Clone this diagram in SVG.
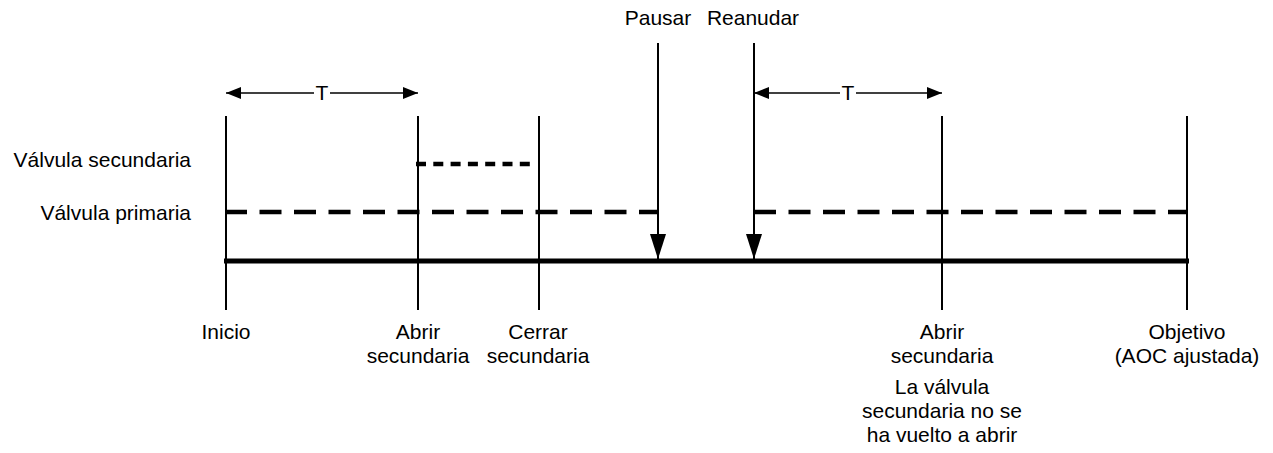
<svg xmlns="http://www.w3.org/2000/svg" width="1273" height="453" viewBox="0 0 1273 453">
  <style>
    text { font-family: "Liberation Sans", Arial, sans-serif; font-size: 21px; fill: #000; }
    .mid { text-anchor: middle; }
    .end { text-anchor: end; }
    .tick { stroke: #000; stroke-width: 2; fill: none; }
    .axis { stroke: #000; stroke-width: 5; fill: none; }
    .primary { stroke: #000; stroke-width: 4.5; stroke-dasharray: 22 12.5; fill: none; }
    .secondary { stroke: #000; stroke-width: 4.5; stroke-dasharray: 10 7.3; stroke-linecap: butt; fill: none; }
    .span { stroke: #000; stroke-width: 1.3; fill: none; }
    .event { stroke: #000; stroke-width: 2; fill: none; }
  </style>
  <defs>
    <marker id="spanHead" viewBox="0 0 15 12" refX="15" refY="6" markerWidth="15" markerHeight="12" markerUnits="userSpaceOnUse" orient="auto-start-reverse">
      <path d="M0,0 L15,6 L0,12 Z" fill="#000"/>
    </marker>
    <marker id="eventHead" viewBox="0 0 25 16" refX="25" refY="8" markerWidth="25" markerHeight="16" markerUnits="userSpaceOnUse" orient="auto">
      <path d="M0,0 L25,8 L0,16 Z" fill="#000"/>
    </marker>
  </defs>

  <rect width="1273" height="453" fill="#fff"/>

  <!-- Valve rows -->
  <g id="row-labels">
    <text class="end" x="191" y="167">Válvula secundaria</text>
    <text class="end" x="191" y="220">Válvula primaria</text>
  </g>

  <g id="connectors">
    <!-- timeline -->
    <line class="axis" x1="224" y1="261" x2="1189" y2="261"/>
    <!-- primary valve open periods -->
    <line class="primary" x1="225" y1="212" x2="658" y2="212"/>
    <line class="primary" x1="754" y1="212" x2="1187" y2="212"/>
    <!-- secondary valve open period -->
    <line class="secondary" x1="416" y1="164" x2="531" y2="164"/>
    <!-- T intervals -->
    <line class="span" x1="226" y1="93" x2="418" y2="93" marker-start="url(#spanHead)" marker-end="url(#spanHead)"/>
    <line class="span" x1="754" y1="93" x2="942" y2="93" marker-start="url(#spanHead)" marker-end="url(#spanHead)"/>
    <!-- pause / resume events -->
    <line class="event" x1="658" y1="43" x2="658" y2="259" marker-end="url(#eventHead)"/>
    <line class="event" x1="754" y1="43" x2="754" y2="259" marker-end="url(#eventHead)"/>
  </g>

  <g id="t-labels">
    <rect x="314" y="83" width="16" height="20" fill="#fff"/>
    <text class="mid" x="322" y="100">T</text>
    <rect x="840" y="83" width="16" height="20" fill="#fff"/>
    <text class="mid" x="848" y="100">T</text>
  </g>

  <g id="node-pausar">
    <text class="mid" x="658" y="25">Pausar</text>
  </g>
  <g id="node-reanudar">
    <text class="mid" x="753" y="25">Reanudar</text>
  </g>

  <g id="node-inicio">
    <line class="tick" x1="226" y1="116" x2="226" y2="310"/>
    <text class="mid" x="226" y="339">Inicio</text>
  </g>
  <g id="node-abrir-1">
    <line class="tick" x1="418" y1="116" x2="418" y2="310"/>
    <text class="mid" x="418" y="339">Abrir</text>
    <text class="mid" x="418" y="363">secundaria</text>
  </g>
  <g id="node-cerrar">
    <line class="tick" x1="539" y1="116" x2="539" y2="310"/>
    <text class="mid" x="538" y="339">Cerrar</text>
    <text class="mid" x="538" y="363">secundaria</text>
  </g>
  <g id="node-abrir-2">
    <line class="tick" x1="942" y1="116" x2="942" y2="310"/>
    <text class="mid" x="942" y="339">Abrir</text>
    <text class="mid" x="942" y="363">secundaria</text>
    <text class="mid" x="942" y="394">La válvula</text>
    <text class="mid" x="942" y="418">secundaria no se</text>
    <text class="mid" x="942" y="442">ha vuelto a abrir</text>
  </g>
  <g id="node-objetivo">
    <line class="tick" x1="1187" y1="116" x2="1187" y2="310"/>
    <text class="mid" x="1187" y="339">Objetivo</text>
    <text class="mid" x="1187" y="363">(AOC ajustada)</text>
  </g>
</svg>
